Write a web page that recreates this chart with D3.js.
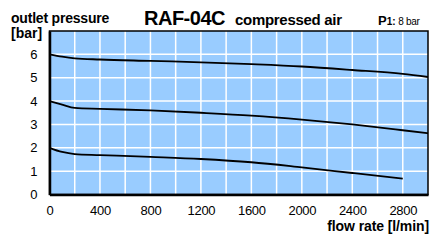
<!DOCTYPE html>
<html>
<head>
<meta charset="utf-8">
<script src="https://cdn.jsdelivr.net/npm/d3@7"></script>
<style>
  body { margin: 0; background: #fff; }
  svg { display: block; font-family: "Liberation Sans", Arial, sans-serif; }
</style>
</head>
<body>
<div id="chart"></div>
<script>
// flow rate [l/min] and outlet pressure [bar]
const flow = [0, 100, 200, 400, 800, 1200, 1600, 2000, 2400, 2800, 3000];
const p6 = [6.0, 5.9, 5.83, 5.78, 5.72, 5.66, 5.58, 5.48, 5.33, 5.16, 5.03];
const p4 = [4.0, 3.85, 3.71, 3.67, 3.6, 3.5, 3.38, 3.21, 3.0, 2.75, 2.62];
const flow2 = [0, 100, 200, 400, 800, 1200, 1600, 2000, 2400, 2800];
const p2 = [2.0, 1.82, 1.73, 1.69, 1.61, 1.52, 1.38, 1.16, 0.92, 0.68];

const xTicks = [0, 400, 800, 1200, 1600, 2000, 2400, 2800];
const yTicks = [0, 1, 2, 3, 4, 5, 6];

const width = 430;
const height = 244;
const plotLeft = 49.5, plotRight = 428, plotTop = 31, plotBottom = 194.5;

const svg = d3.select("#chart")
    .append("svg")
    .attr("width", width)
    .attr("height", height);

const x = d3.scaleLinear().domain([0, 3000]).range([plotLeft, plotRight]);
const y = d3.scaleLinear().domain([0, 7]).range([plotBottom, plotTop]);

svg.append("rect")
    .attr("x", plotLeft).attr("y", plotTop)
    .attr("width", plotRight - plotLeft).attr("height", plotBottom - plotTop)
    .attr("fill", "#99ccff");

// white grid
svg.selectAll(".vgrid")
    .data(d3.range(200, 3000, 200))
    .enter().append("line")
    .attr("x1", d => x(d)).attr("x2", d => x(d))
    .attr("y1", plotTop).attr("y2", plotBottom)
    .attr("stroke", "#fff").attr("stroke-width", 1.5);

svg.selectAll(".hgrid")
    .data(d3.range(1, 7))
    .enter().append("line")
    .attr("x1", plotLeft).attr("x2", plotRight)
    .attr("y1", d => y(d)).attr("y2", d => y(d))
    .attr("stroke", "#fff").attr("stroke-width", 1.5);

// curves
const line = d3.line()
    .x(d => x(d[0]))
    .y(d => y(d[1]))
    .curve(d3.curveMonotoneX);

[[flow, p6], [flow, p4], [flow2, p2]].forEach(([f, p]) => {
    svg.append("path")
        .datum(f.map((v, i) => [v, p[i]]))
        .attr("d", line)
        .attr("fill", "none")
        .attr("stroke", "#000")
        .attr("stroke-width", 1.8);
});

// frame
svg.append("rect")
    .attr("x", plotLeft).attr("y", plotTop)
    .attr("width", plotRight - plotLeft).attr("height", plotBottom - plotTop)
    .attr("fill", "none").attr("stroke", "#000").attr("stroke-width", 1.5);

// axes
const xAxis = d3.axisBottom(x).tickValues(xTicks).tickFormat(d3.format("d"))
    .tickSize(0).tickPadding(11);
const yAxis = d3.axisLeft(y).tickValues(yTicks).tickFormat(d3.format("d"))
    .tickSize(0).tickPadding(12);

svg.append("g")
    .attr("transform", `translate(0,${plotBottom})`)
    .call(xAxis)
    .call(g => g.select(".domain").attr("stroke-width", 2.5))
    .selectAll("text")
    .attr("font-size", 13).attr("font-family", "Liberation Sans, Arial")
    .attr("fill", "#000").attr("letter-spacing", -0.3);

svg.append("g")
    .attr("transform", `translate(${plotLeft},0)`)
    .call(yAxis)
    .call(g => g.select(".domain").attr("stroke-width", 2.5))
    .selectAll("text")
    .attr("font-size", 13).attr("font-family", "Liberation Sans, Arial")
    .attr("fill", "#000");

// titles
svg.append("text")
    .attr("x", 11).attr("y", 23)
    .attr("font-size", 14).attr("font-weight", "bold").attr("letter-spacing", -0.2)
    .text("outlet pressure");

svg.append("text")
    .attr("x", 11).attr("y", 38)
    .attr("font-size", 14).attr("font-weight", "bold")
    .text("[bar]");

svg.append("text")
    .attr("x", 144).attr("y", 25)
    .attr("font-size", 20).attr("font-weight", "bold").attr("letter-spacing", -0.5)
    .text("RAF-04C");

svg.append("text")
    .attr("x", 235).attr("y", 25)
    .attr("font-size", 15).attr("font-weight", "bold").attr("letter-spacing", -0.3)
    .text("compressed air");

const p1 = svg.append("text")
    .attr("x", 378).attr("y", 25)
    .attr("font-weight", "bold");
p1.append("tspan").attr("font-size", 13).text("P");
p1.append("tspan").attr("font-size", 10).text("1: ");
p1.append("tspan").attr("font-size", 10).attr("font-weight", "normal")
    .attr("letter-spacing", -0.3).text("8 bar");

svg.append("text")
    .attr("x", 429).attr("y", 231)
    .attr("text-anchor", "end")
    .attr("font-size", 14).attr("font-weight", "bold").attr("letter-spacing", -0.1)
    .text("flow rate [l/min]");
</script>
</body>
</html>
